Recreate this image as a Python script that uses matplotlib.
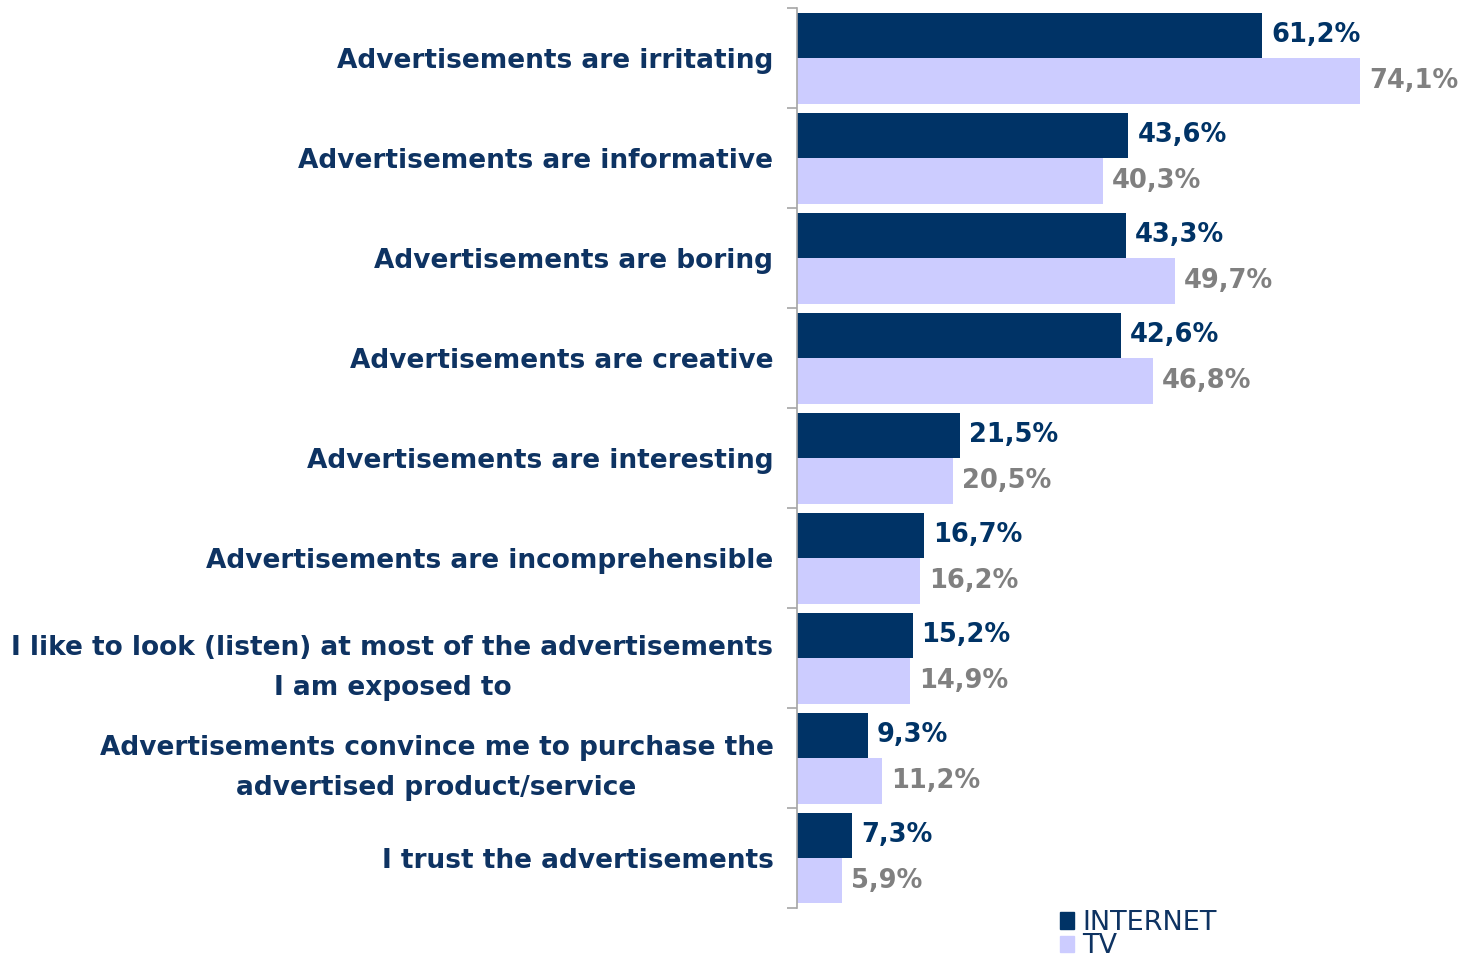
import numpy as np
import matplotlib.pyplot as plt
from matplotlib.patches import Patch

categories = [
    'Advertisements are irritating',
    'Advertisements are informative',
    'Advertisements are boring',
    'Advertisements are creative',
    'Advertisements are interesting',
    'Advertisements are incomprehensible',
    'I like to look (listen) at most of the advertisements\nI am exposed to',
    'Advertisements convince me to purchase the\nadvertised product/service',
    'I trust the advertisements',
]
internet = [61.2, 43.6, 43.3, 42.6, 21.5, 16.7, 15.2, 9.3, 7.3]
tv = [74.1, 40.3, 49.7, 46.8, 20.5, 16.2, 14.9, 11.2, 5.9]

navy = '#003366'
lilac = '#CCCCFF'
label_col = '#0E3362'

fig = plt.figure(figsize=(14.64, 9.67), dpi=100)
ax = fig.add_axes([797 / 1464, 1 - 908 / 967, 1 - 797 / 1464, 900 / 967])

y = np.arange(len(categories))
h = 0.455
ax.barh(y - h / 2, internet, height=h, color=navy)
ax.barh(y + h / 2, tv, height=h, color=lilac)

def fmt(v):
    return f'{v:.1f}%'.replace('.', ',')

for yi, a, b in zip(y, internet, tv):
    ax.annotate(fmt(a), (a, yi - h / 2), xytext=(6.5, 0), textcoords='offset points',
                va='center', ha='left', fontsize=18.5, fontweight='bold', color=navy)
    ax.annotate(fmt(b), (b, yi + h / 2), xytext=(6.5, 0), textcoords='offset points',
                va='center', ha='left', fontsize=18.5, fontweight='bold', color='#808080')

ax.set_ylim(len(categories) - 0.5, -0.5)
ax.set_xlim(0, (1464 - 797) / 7.6)

ax.set_yticks(y)
ax.set_yticklabels(categories, fontsize=19, fontweight='bold', color=label_col,
                   multialignment='center', linespacing=1.7)
ax.tick_params(axis='y', which='major', length=0, pad=17)
ax.set_yticks(np.arange(-0.5, len(categories)), minor=True)
ax.tick_params(axis='y', which='minor', length=7, color='#A6A6A6', width=1.2)
ax.set_xticks([])

for s in ['top', 'right', 'bottom']:
    ax.spines[s].set_visible(False)
ax.spines['left'].set_color('#A6A6A6')
ax.spines['left'].set_linewidth(1.2)

handles = [Patch(color=navy, label='INTERNET'), Patch(color=lilac, label='TV')]
leg = fig.legend(handles=handles, loc='lower left', bbox_to_anchor=(1046 / 1464, -0.006),
                 frameon=False, fontsize=19.5, handlelength=0.55, handleheight=0.55,
                 handletextpad=0.3, labelspacing=-0.1, borderpad=0)
for t in leg.get_texts():
    t.set_color(label_col)

fig.savefig('out.png', dpi=100)
